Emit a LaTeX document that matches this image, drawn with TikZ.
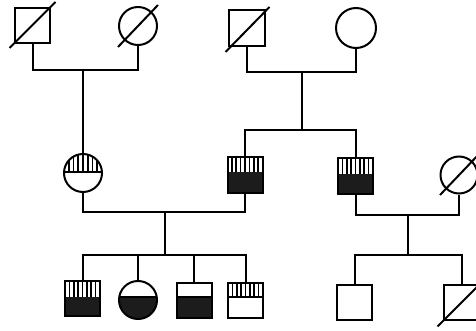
\documentclass[tikz,border=0pt]{standalone}
\usetikzlibrary{calc}
\begin{document}
\begin{tikzpicture}[x=1pt,y=-1pt]
\definecolor{dk}{HTML}{1C1C1C}
\tikzset{
  ln/.style={line width=2pt, line join=miter},
  sq/.style={draw, ln, rectangle, minimum size=35pt, inner sep=0pt},
  ci/.style={draw, ln, circle, minimum size=38pt, inner sep=0pt},
  slash/.style={line width=2pt},
  stripe/.style={line width=1.6pt},
  % vertical stripes above depth #1, dark fill below it
  stripedark/.style={path picture={
    \fill[dk] ($(path picture bounding box.north west)+(0,#1)$) rectangle (path picture bounding box.south east);
    \foreach \k in {1,...,7}
      \draw[stripe] ($(path picture bounding box.north west)!\k/8!(path picture bounding box.north east)$) -- ++(0,#1);
  }},
  % vertical stripes above depth #1, white below a dividing line
  stripewhite/.style={path picture={
    \foreach \k in {1,...,7}
      \draw[stripe] ($(path picture bounding box.north west)!\k/8!(path picture bounding box.north east)$) -- ++(0,#1);
    \draw[ln] ($(path picture bounding box.north west)+(0,#1)$) -- ($(path picture bounding box.north east)+(0,#1)$);
  }},
  % white above depth #1, dark fill below it
  whitedark/.style={path picture={
    \fill[dk] ($(path picture bounding box.north west)+(0,#1)$) rectangle (path picture bounding box.south east);
    \draw[ln] ($(path picture bounding box.north west)+(0,#1)$) -- ($(path picture bounding box.north east)+(0,#1)$);
  }},
}
\useasboundingbox (0,0) rectangle (476,331);

% generation I
\node[sq] (A) at (32.5,26) {};
\node[ci] (B) at (138,26) {};
\node[sq, minimum size=36pt] (C) at (246.5,28) {};
\node[ci, minimum size=40pt] (D) at (356,28) {};

% generation II
\node[ci, stripewhite=18] (E) at (83,173) {};
\node[sq, stripedark=15] (F) at (245,175) {};
\node[sq, stripedark=16] (G) at (355.5,176) {};
\node[ci, minimum size=37pt] (H) at (459,175) {};

% generation III
\node[sq, stripedark=16] (I) at (82.5,298.5) {};
\node[ci, whitedark=16] (J) at (138,300) {};
\node[sq, whitedark=14] (K) at (194,300) {};
\node[sq, stripewhite=14] (L) at (245.5,300.5) {};
\node[sq] (M) at (354.5,302) {};
\node[sq] (N) at (461.5,302.5) {};

% deceased marks
\draw[slash] ($(A)+(-23,22)$) -- ($(A)+(23,-24)$);
\draw[slash] ($(B)+(-20,21)$) -- ($(B)+(20,-21)$);
\draw[slash] ($(C)+(-21,24)$) -- ($(C)+(23,-21)$);
\draw[slash] ($(H)+(-19,20)$) -- ($(H)+(22,-23)$);
\draw[slash] ($(N)+(-24,24)$) -- ($(N)+(22,-22)$);

% junction points
\coordinate (j1) at (83,70);
\coordinate (j2) at (302,72);
\coordinate (j3) at (302,130);
\coordinate (j4) at (165,212);
\coordinate (j5) at (165,255);
\coordinate (j6) at (408,215);
\coordinate (j7) at (408,255);

% marriage and descent lines
\draw[ln] (A.south) |- (j1) -| (B.south);
\draw[ln] (j1) -- (E.north);
\draw[ln] (C.south) |- (j2) -| (D.south);
\draw[ln] (j2) -- (j3);
\draw[ln] (F.north) |- (j3) -| (G.north);
\draw[ln] (E.south) |- (j4) -| (F.south);
\draw[ln] (j4) -- (j5);
\draw[ln] (I.north) |- (j5) -| (L.north);
\draw[ln] (J.north) |- (j5);
\draw[ln] (K.north) |- (j5);
\draw[ln] (G.south) |- (j6) -| (H.south);
\draw[ln] (j6) -- (j7);
\draw[ln] (M.north) |- (j7) -| (N.north);
\end{tikzpicture}
\end{document}
